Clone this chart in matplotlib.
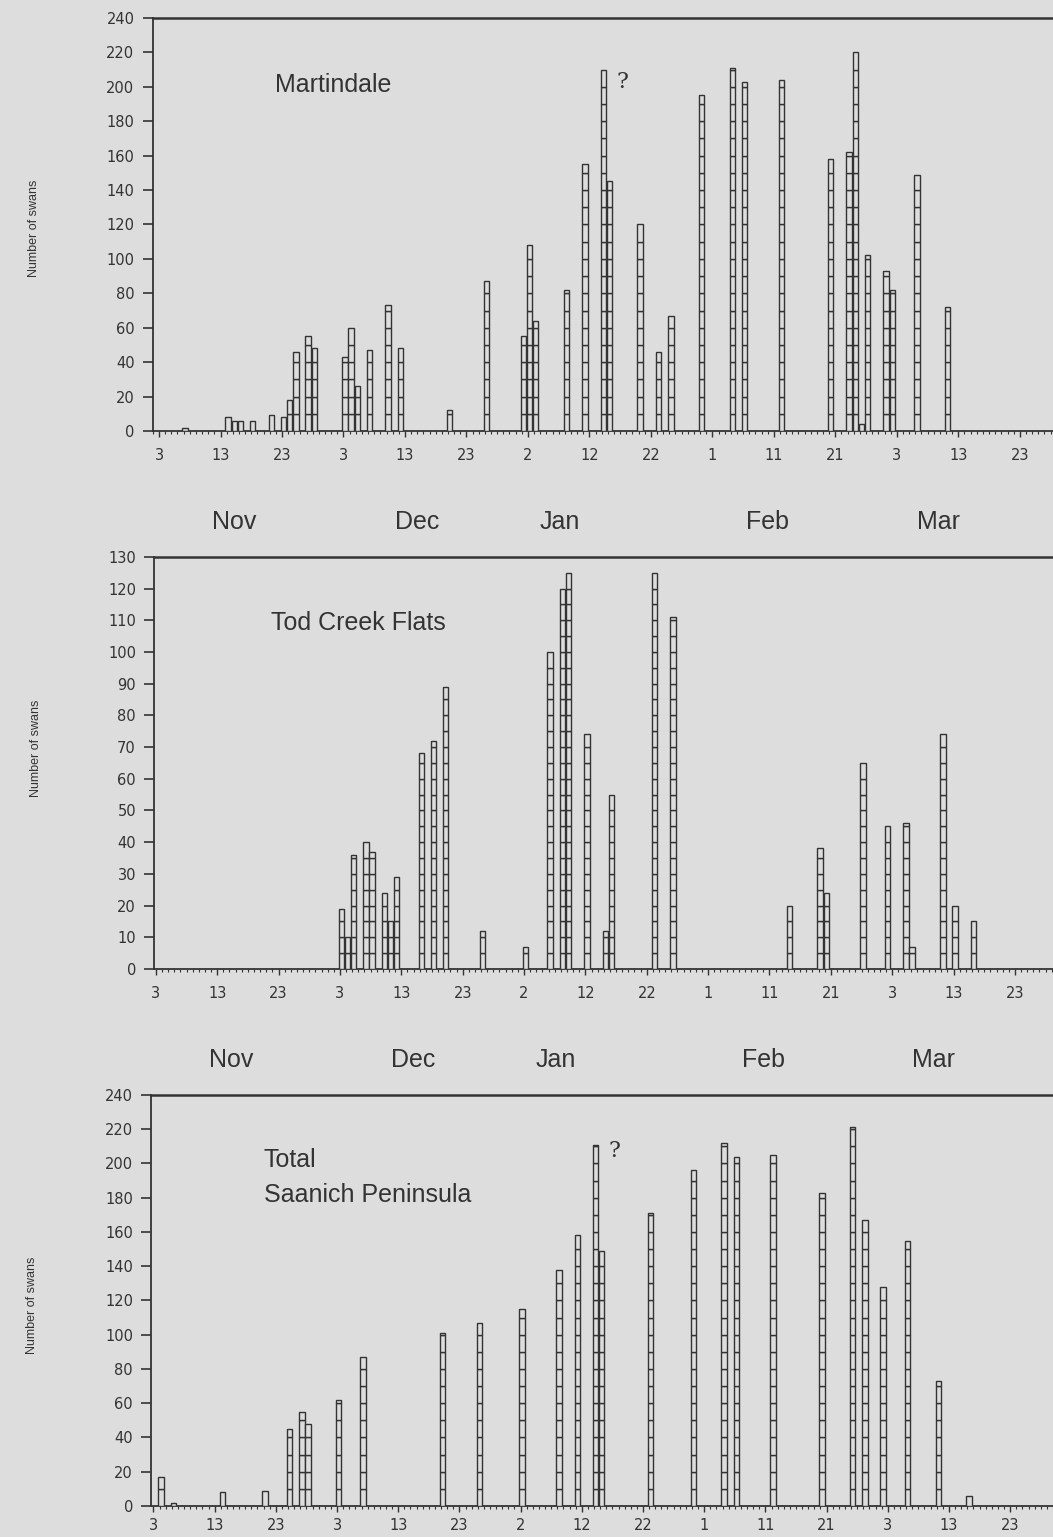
import numpy as np
import matplotlib
matplotlib.use("Agg")
import matplotlib.pyplot as plt
from matplotlib import font_manager
from matplotlib.ticker import MultipleLocator, FixedLocator

# day numbers counted from 3 Nov (tick every 10 days)
tick_labels = ['3', '13', '23', '3', '13', '23', '2', '12', '22',
               '1', '11', '21', '3', '13', '23']
month_names = ['Nov', 'Dec', 'Jan', 'Feb', 'Mar']
month_pos = [12.3, 42.0, 65.2, 99.0, 126.7]

# Martindale
mart_days = [4, 11, 12, 13, 15, 18, 20, 21, 22, 24, 25, 30, 31, 32, 34, 37, 39,
             47, 53, 59, 60, 61, 66, 69, 72, 73, 78, 81, 83, 88, 93, 95, 101,
             109, 112, 113, 114, 115, 118, 119, 123, 128]
mart_counts = [2, 8, 6, 6, 6, 9, 8, 18, 46, 55, 48, 43, 60, 26, 47, 73, 48,
               12, 87, 55, 108, 64, 82, 155, 210, 145, 120, 46, 67, 195, 211, 203, 204,
               158, 162, 220, 4, 102, 93, 82, 149, 72]

# Tod Creek Flats
tod_days = [30, 31, 32, 34, 35, 37, 38, 39, 43, 45, 47, 53, 60, 64, 66, 67, 70,
            73, 74, 81, 84, 103, 108, 109, 115, 119, 122, 123, 128, 130, 133]
tod_counts = [19, 10, 36, 40, 37, 24, 15, 29, 68, 72, 89, 12, 7, 100, 120, 125, 74,
              12, 55, 125, 111, 20, 38, 24, 65, 45, 46, 7, 74, 20, 15]

# Total Saanich Peninsula
tot_days = [1, 3, 11, 18, 22, 24, 25, 30, 34, 47, 53, 60, 66, 69, 72, 73, 81,
            88, 93, 95, 101, 109, 114, 116, 119, 123, 128, 133]
tot_counts = [17, 2, 8, 9, 45, 55, 48, 62, 87, 101, 107, 115, 138, 158, 211, 149, 171,
              196, 212, 204, 205, 183, 221, 167, 128, 155, 73, 6]

bg = '#dddddd'
ink = '#333333'

names = {f.name for f in font_manager.fontManager.ttflist}
narrow = 'Liberation Sans Narrow' if 'Liberation Sans Narrow' in names else 'Liberation Sans'

fig = plt.figure(figsize=(10.53, 15.37), dpi=100, facecolor=bg)

# axes boxes in figure fractions, x limits so ticks land where the scan has them
panels = [
    dict(days=mart_days, counts=mart_counts, ymax=240, ystep=20, seg=10,
         rect=[152.5 / 1053, 0.7196, 1 - 152.5 / 1053, 0.2687], xlim=(-1.06, 145.4),
         xpad=8, title=['Martindale'], title_xy=(0.1365, 0.838), ylab_y=0.49,
         months=True, q=(75.3, 203)),
    dict(days=tod_days, counts=tod_counts, ymax=130, ystep=10, seg=5,
         rect=[154 / 1053, 0.3696, 1 - 154 / 1053, 0.2681], xlim=(-0.3, 146.2),
         xpad=8, title=['Tod Creek Flats'], title_xy=(0.130, 0.840), ylab_y=0.536,
         months=True, q=None),
    dict(days=tot_days, counts=tot_counts, ymax=240, ystep=20, seg=10,
         rect=[151 / 1053, 0.0202, 1 - 151 / 1053, 0.2674], xlim=(-0.4, 147.0),
         xpad=5, title=['Total', 'Saanich Peninsula'], title_xy=(0.125, 0.842),
         ylab_y=0.489, months=False, q=(75.4, 207)),
]

offset = 0.25
width = 0.88

for p in panels:
    ax = fig.add_axes(p['rect'])
    ax.set_facecolor('none')

    # each bar built from stacked blocks (10 or 5 swans each)
    xs, bots, hts = [], [], []
    for d, v in zip(p['days'], p['counts']):
        b = np.arange(0, v, p['seg'])
        xs.extend([d + offset] * len(b))
        bots.extend(b)
        hts.extend(np.minimum(p['seg'], v - b))
    ax.bar(xs, hts, bottom=bots, width=width, facecolor=bg,
           edgecolor=ink, linewidth=1.0, zorder=3)

    ax.set_xlim(*p['xlim'])
    ax.set_ylim(0, p['ymax'])
    ax.yaxis.set_major_locator(MultipleLocator(p['ystep']))
    ax.xaxis.set_major_locator(FixedLocator(np.arange(0, 150, 10)))
    ax.xaxis.set_minor_locator(MultipleLocator(1))
    ax.set_xticklabels(tick_labels)

    for s in ['left', 'bottom', 'top']:
        ax.spines[s].set_color(ink)
        ax.spines[s].set_linewidth(1.3)
    ax.spines['top'].set_linewidth(1.8)
    ax.spines['right'].set_visible(False)

    ax.tick_params(axis='y', direction='out', length=7, width=1.2, color=ink,
                   labelcolor=ink, labelsize=10.5, pad=6)
    ax.tick_params(axis='x', which='major', direction='out', length=4, width=1.0,
                   color=ink, labelcolor=ink, labelsize=10.5, pad=p['xpad'])
    ax.tick_params(axis='x', which='minor', direction='out', length=2, width=0.8,
                   color=ink)

    ax.set_ylabel('Number of swans', family=narrow, fontsize=9, color=ink)
    ax.yaxis.set_label_coords(-0.125, p['ylab_y'])

    tx, ty = p['title_xy']
    for i, line in enumerate(p['title']):
        ax.text(tx, ty - i * 0.085, line, transform=ax.transAxes, ha='left',
                va='center', family='Liberation Sans', fontsize=18, color=ink)

    if p['months']:
        trans = ax.get_xaxis_transform()
        for m, x in zip(month_names, month_pos):
            ax.text(x, -0.22, m, transform=trans, ha='center', va='center',
                    family='Liberation Sans', fontsize=18, color=ink)

    if p['q'] is not None:
        ax.text(p['q'][0], p['q'][1], '?', ha='center', va='center',
                family='DejaVu Serif', fontsize=16, color=ink)

fig.savefig('out.png', dpi=100, facecolor=bg)
